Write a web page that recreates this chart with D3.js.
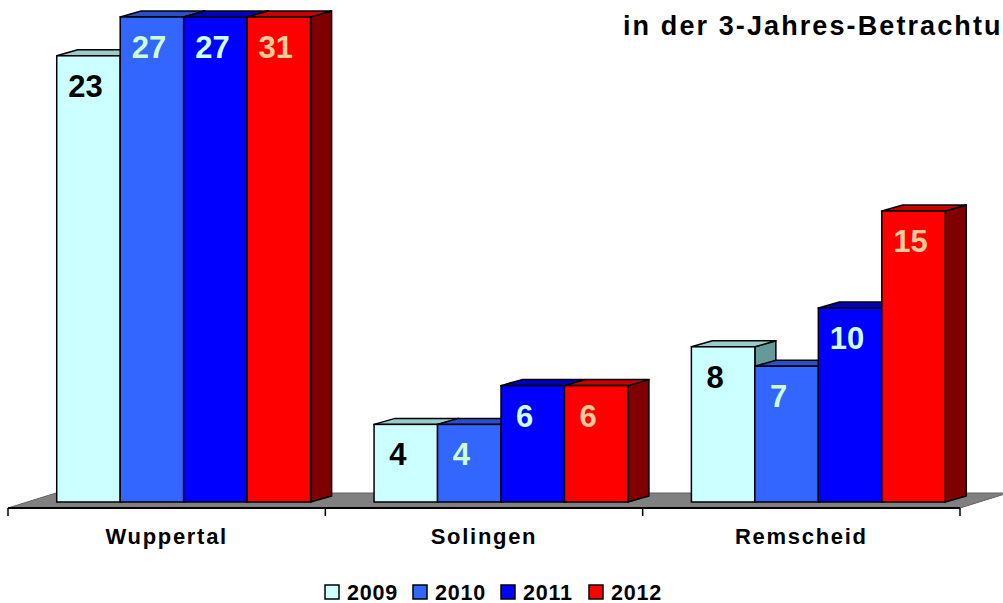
<!DOCTYPE html>
<html>
<head>
<meta charset="utf-8">
<script src="https://cdnjs.cloudflare.com/ajax/libs/d3/7.8.5/d3.min.js"></script>
<style>
  body { margin: 0; background: #fff; }
  svg { display: block; font-family: "Liberation Sans", Arial, sans-serif; font-weight: bold; }
</style>
</head>
<body>
<div id="chart"></div>
<script>
var width = 1003, height = 603;

// data
var categories = ["Wuppertal", "Solingen", "Remscheid"];
var years = ["2009", "2010", "2011", "2012"];
var values = {
  "2009": [23, 4, 8],
  "2010": [27, 4, 7],
  "2011": [27, 6, 10],
  "2012": [31, 6, 15]
};
var yMax = 25;   // axis max, taller bars are cut off

var front = {"2009": "#ccffff", "2010": "#3366ff", "2011": "#0000ff", "2012": "#ff0000"};
var topc  = {"2009": "#99cccc", "2010": "#2a50c8", "2011": "#0000c0", "2012": "#c80000"};
var side  = {"2009": "#669999", "2010": "#1f3c99", "2011": "#000080", "2012": "#800000"};
var labelColor = {"2009": "#000000", "2010": "#ccffcc", "2011": "#ccffff", "2012": "#ffcc99"};

// 3d offsets
var shift = {dx: 17, dy: -6},   // bar front from floor front
    depth = {dx: 21, dy: -6},   // bar depth
    floorDepth = {dx: 48, dy: -15};

var svg = d3.select("#chart").append("svg")
  .attr("width", width)
  .attr("height", height);

var x0 = d3.scaleBand()
  .domain(categories)
  .range([8, 960])
  .padding(0);

var x1 = d3.scaleBand()
  .domain(years)
  .range([0, x0.bandwidth()])
  .paddingInner(0)
  .paddingOuter(0.5);

var y = d3.scaleLinear()
  .domain([0, yMax])
  .range([508, 23]);

// title (runs past the right edge, as in the original)
svg.append("text")
  .attr("x", 623)
  .attr("y", 35)
  .style("font-size", "27px")
  .style("letter-spacing", "2.1px")
  .text("in der 3-Jahres-Betrachtung");

// floor
var fx0 = x0.range()[0], fx1 = x0.range()[1], fy = y(0);
svg.append("polygon")
  .attr("points", [
    [fx0, fy], [fx1, fy],
    [fx1 + floorDepth.dx, fy + floorDepth.dy],
    [fx0 + floorDepth.dx, fy + floorDepth.dy]
  ].map(p => p.join(",")).join(" "))
  .attr("fill", "#808080")
  .attr("stroke", "#606060")
  .attr("stroke-width", 1);

svg.append("line")
  .attr("x1", fx0).attr("x2", fx1)
  .attr("y1", fy).attr("y2", fy)
  .attr("stroke", "#000")
  .attr("stroke-width", 2);

// ticks at category borders
var borders = categories.map(c => x0(c)).concat([fx1]);
svg.append("g").selectAll("line")
  .data(borders)
  .enter().append("line")
  .attr("x1", d => d).attr("x2", d => d)
  .attr("y1", fy).attr("y2", fy + 8)
  .attr("stroke", "#000")
  .attr("stroke-width", 1.5);

// bars
function pts(a) { return a.map(p => p.join(",")).join(" "); }

categories.forEach(function(cat, ci) {
  var g = svg.append("g").attr("class", "cat");
  years.forEach(function(yr) {
    var v = Math.min(values[yr][ci], yMax);
    var xa = x0(cat) + x1(yr) + shift.dx,
        xb = xa + x1.bandwidth(),
        yt = y(v) + shift.dy,
        yb = y(0) + shift.dy;

    g.append("polygon")
      .attr("points", pts([[xb, yt], [xb + depth.dx, yt + depth.dy], [xb + depth.dx, yb + depth.dy], [xb, yb]]))
      .attr("fill", side[yr])
      .attr("stroke", "#000").attr("stroke-width", 1.5).attr("stroke-linejoin", "round");

    g.append("polygon")
      .attr("points", pts([[xa, yt], [xa + depth.dx, yt + depth.dy], [xb + depth.dx, yt + depth.dy], [xb, yt]]))
      .attr("fill", topc[yr])
      .attr("stroke", "#000").attr("stroke-width", 1.5).attr("stroke-linejoin", "round");

    g.append("rect")
      .attr("x", xa).attr("y", yt)
      .attr("width", xb - xa).attr("height", yb - yt)
      .attr("fill", front[yr])
      .attr("stroke", "#000").attr("stroke-width", 1.5);
  });
});

// value labels
categories.forEach(function(cat, ci) {
  years.forEach(function(yr) {
    var val = values[yr][ci];
    var v = Math.min(val, yMax);
    var off = String(val).length == 1 ? -8 : -3;
    svg.append("text")
      .attr("x", x0(cat) + x1(yr) + shift.dx + x1.bandwidth() / 2 + off)
      .attr("y", y(v) + shift.dy + 41)
      .attr("text-anchor", "middle")
      .style("font-size", "31px")
      .attr("fill", labelColor[yr])
      .text(val);
  });
});

// category labels
svg.append("g").selectAll("text")
  .data(categories)
  .enter().append("text")
  .attr("x", d => x0(d) + x0.bandwidth() / 2)
  .attr("y", 544)
  .attr("text-anchor", "middle")
  .style("font-size", "22px")
  .style("letter-spacing", "1.7px")
  .text(d => d);

// legend
var legend = svg.append("g").attr("transform", "translate(325,585)");
var item = legend.selectAll("g")
  .data(years)
  .enter().append("g")
  .attr("transform", (d, i) => "translate(" + (i * 88) + ",0)");

item.append("rect")
  .attr("width", 14).attr("height", 14)
  .attr("fill", d => front[d])
  .attr("stroke", "#000").attr("stroke-width", 1.5);

item.append("text")
  .attr("x", 22)
  .attr("y", 14.5)
  .style("font-size", "21.5px")
  .style("letter-spacing", "0.8px")
  .text(d => d);
</script>
</body>
</html>
